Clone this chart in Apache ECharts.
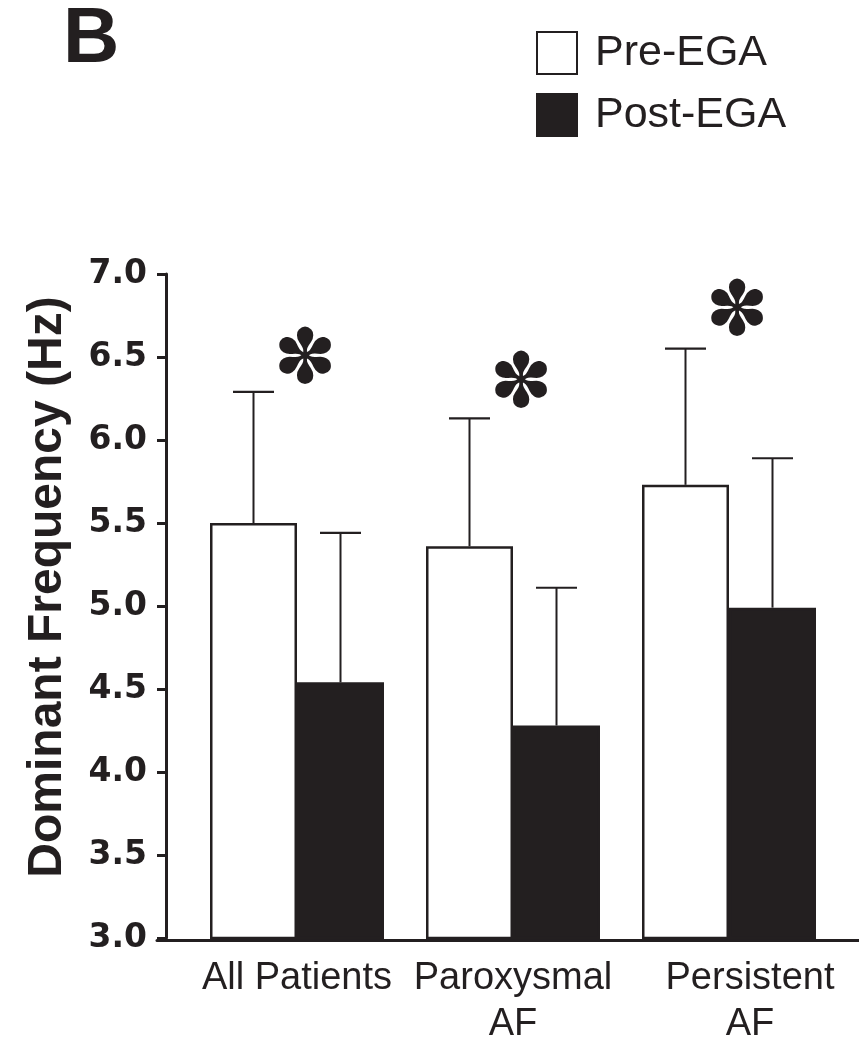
<!DOCTYPE html>
<html>
<head>
<meta charset="utf-8">
<script src="https://cdn.jsdelivr.net/npm/echarts@6/dist/echarts.min.js"></script>
<style>
html,body{margin:0;padding:0;background:#fff;}
#chart{width:859px;height:1048px;}
</style>
</head>
<body>
<div id="chart"></div>
<script>
// ---- data ----
const categories = ['All Patients', 'Paroxysmal\nAF', 'Persistent\nAF'];
const preMean = [5.50, 5.36, 5.73];
const preUpper = [6.29, 6.13, 6.55];
const postMean = [4.54, 4.28, 4.99];
const postUpper = [5.44, 5.11, 5.89];
const sigLevel = [6.46, 6.32, 6.75];
const seriesNames = ['Pre-EGA', 'Post-EGA'];
const yMin = 3.0, yMax = 7.0, yStep = 0.5;

// ---- styles ----
const INK = '#231f20';
const BAR_W = 87;
const CAP_HALF = 20.5;

function errorSeries(name, means, uppers, side) {
  return {
    type: 'custom',
    name: name + ' SD',
    xAxisIndex: 0, yAxisIndex: 0,
    z: 5,
    silent: true,
    data: means.map((m, i) => [i, m, uppers[i]]),
    renderItem: function (params, api) {
      const base = api.coord([api.value(0), api.value(1)]);
      const top = api.coord([api.value(0), api.value(2)]);
      const x = base[0] + side * BAR_W / 2;
      return {
        type: 'group',
        children: [
          {type: 'line', shape: {x1: x, y1: base[1], x2: x, y2: top[1]},
           style: {stroke: INK, lineWidth: 2}},
          {type: 'line', shape: {x1: x - CAP_HALF, y1: top[1], x2: x + CAP_HALF, y2: top[1]},
           style: {stroke: INK, lineWidth: 2.2}}
        ]
      };
    }
  };
}

const chart = echarts.init(document.getElementById('chart'), null, {renderer: 'canvas'});
const option = {
  backgroundColor: '#fff',
  animation: false,
  title: {
    text: 'B', left: 58, top: -4,
    textStyle: {fontFamily: 'Liberation Sans', fontWeight: 'bold', fontSize: 78, color: INK}
  },
  legend: {
    data: seriesNames,
    orient: 'vertical',
    left: 531, top: 26,
    itemWidth: 40, itemHeight: 42, itemGap: 18,
    icon: 'rect',
    textStyle: {fontFamily: 'Liberation Sans', fontSize: 43, color: INK, lineHeight: 42, padding: [0, 0, 0, 13]}
  },
  grid: [
    {left: 189, right: 22, top: 274, bottom: 108},
    {left: 157, right: 0, top: 274, bottom: 108}
  ],
  xAxis: [
    {
      type: 'category', gridIndex: 0, data: categories,
      axisLine: {show: false},
      axisTick: {show: false},
      axisLabel: {
        interval: 0, hideOverlap: false,
        margin: 18, color: INK, fontFamily: 'Liberation Sans', fontSize: 38, lineHeight: 46,
        formatter: function (v, i) {
          const lines = v.split('\n');
          const key = i === 2 ? 's' : 'n';
          return lines.map(l => '{' + key + '|' + l + '}').join('\n');
        },
        rich: {
          n: {fontFamily: 'Liberation Sans', fontSize: 38, lineHeight: 46, color: INK},
          s: {fontFamily: 'Liberation Sans', fontSize: 38, lineHeight: 46, color: INK, padding: [0, 0, 0, 42]}
        }
      }
    },
    {
      type: 'value', gridIndex: 1, min: 0, max: 1,
      axisLine: {show: true, lineStyle: {color: INK, width: 3}},
      axisTick: {show: false}, axisLabel: {show: false}, splitLine: {show: false}
    }
  ],
  yAxis: [
    {
      type: 'value', gridIndex: 0, min: yMin, max: yMax, interval: yStep,
      offset: 23,
      name: 'Dominant Frequency (Hz)',
      nameLocation: 'middle', nameGap: 94,
      nameTextStyle: {fontFamily: 'Liberation Sans', fontWeight: 'bold', fontSize: 48, color: INK, padding: [0, 0, 0, 38]},
      axisLine: {show: true, lineStyle: {color: INK, width: 3}},
      axisTick: {show: true, length: 9, lineStyle: {color: INK, width: 3}},
      splitLine: {show: false},
      axisLabel: {
        margin: 19, color: INK, fontFamily: 'DejaVu Sans', fontWeight: 'bold', fontSize: 33,
        formatter: v => v.toFixed(1)
      }
    },
    {type: 'value', gridIndex: 1, show: false, min: 0, max: 1}
  ],
  series: [
    {
      name: seriesNames[0], type: 'bar', xAxisIndex: 0, yAxisIndex: 0,
      data: preMean, barWidth: BAR_W, barGap: '0%',
      itemStyle: {color: '#ffffff', borderColor: INK, borderWidth: 2.5}
    },
    {
      name: seriesNames[1], type: 'bar', xAxisIndex: 0, yAxisIndex: 0,
      data: postMean, barWidth: BAR_W, barGap: '0%',
      itemStyle: {color: INK, borderColor: INK, borderWidth: 2.5}
    },
    errorSeries(seriesNames[0], preMean, preUpper, -1),
    errorSeries(seriesNames[1], postMean, postUpper, 1),
    {
      type: 'custom', name: 'significance', silent: true, z: 6,
      xAxisIndex: 0, yAxisIndex: 0,
      data: sigLevel.map((v, i) => [i, v]),
      renderItem: function (params, api) {
        const p = api.coord([api.value(0), api.value(1)]);
        return {
          type: 'text',
          x: p[0] + 8, y: p[1],
          style: {text: '\u273D', fill: INK, fontFamily: 'DejaVu Sans', fontSize: 76,
                  align: 'center', verticalAlign: 'middle'}
        };
      }
    }
  ]
};
chart.setOption(option);
</script>
</body>
</html>
